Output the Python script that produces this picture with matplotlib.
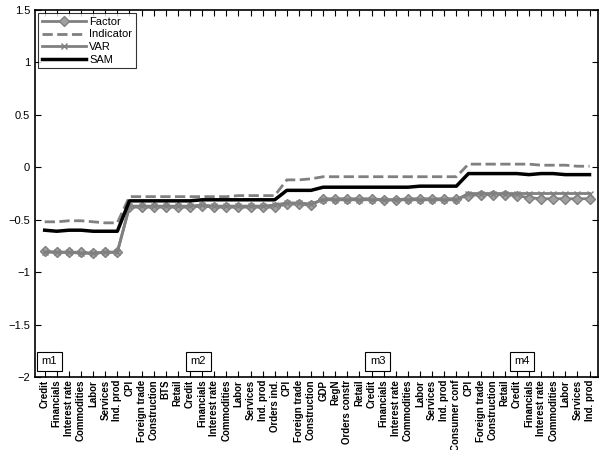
import matplotlib
matplotlib.use("Agg")
import matplotlib.pyplot as plt
import numpy as np

plt.rcParams["font.family"] = ["Liberation Sans", "DejaVu Sans"]

labels = ["Credit", "Financials", "Interest rate", "Commodities", "Labor", "Services", "Ind. prod",
          "CPI", "Foreign trade", "Construction", "BTS", "Retail", "Credit", "Financials",
          "Interest rate", "Commodities", "Labor", "Services", "Ind. prod", "Orders ind.",
          "CPI", "Foreign trade", "Construction", "GDP", "RegN", "Orders constr", "Retail",
          "Credit", "Financials", "Interest rate", "Commodities", "Labor", "Services", "Ind. prod",
          "Consumer conf", "CPI", "Foreign trade", "Construction", "Retail", "Credit",
          "Financials", "Interest rate", "Commodities", "Labor", "Services", "Ind. prod"]

factor = [-0.80, -0.81, -0.81, -0.81, -0.82, -0.81, -0.81,
          -0.38, -0.38, -0.38, -0.38, -0.38, -0.38, -0.37, -0.38, -0.38, -0.38, -0.38, -0.38, -0.38,
          -0.35, -0.35, -0.36, -0.30, -0.30, -0.30, -0.30, -0.30, -0.31, -0.31, -0.30, -0.30,
          -0.30, -0.30, -0.30, -0.27, -0.26, -0.26, -0.26, -0.27, -0.29, -0.30, -0.30, -0.30,
          -0.30, -0.30]
indicator = [-0.52, -0.52, -0.51, -0.51, -0.52, -0.53, -0.53,
             -0.28, -0.28, -0.28, -0.28, -0.28, -0.28, -0.28, -0.28, -0.28, -0.27, -0.27, -0.27, -0.27,
             -0.12, -0.12, -0.11, -0.09, -0.09, -0.09, -0.09, -0.09, -0.09, -0.09, -0.09, -0.09,
             -0.09, -0.09, -0.09, 0.03, 0.03, 0.03, 0.03, 0.03, 0.03, 0.02, 0.02, 0.02, 0.01, 0.01]
var = [-0.81, -0.81, -0.81, -0.82, -0.82, -0.81, -0.81,
       -0.37, -0.37, -0.37, -0.37, -0.37, -0.37, -0.36, -0.37, -0.37, -0.37, -0.37, -0.37, -0.36,
       -0.34, -0.34, -0.35, -0.31, -0.31, -0.31, -0.31, -0.31, -0.31, -0.31, -0.31, -0.31,
       -0.31, -0.31, -0.31, -0.25, -0.25, -0.25, -0.25, -0.25, -0.25, -0.25, -0.25, -0.25,
       -0.25, -0.25]
sam = [-0.60, -0.61, -0.60, -0.60, -0.61, -0.61, -0.61,
       -0.32, -0.32, -0.32, -0.32, -0.32, -0.32, -0.31, -0.31, -0.31, -0.31, -0.31, -0.31, -0.31,
       -0.22, -0.22, -0.22, -0.19, -0.19, -0.19, -0.19, -0.19, -0.19, -0.19, -0.19, -0.18,
       -0.18, -0.18, -0.18, -0.06, -0.06, -0.06, -0.06, -0.06, -0.07, -0.06, -0.06, -0.07,
       -0.07, -0.07]

model_tags = ["m1", "m2", "m3", "m4"]
tag_pos = [0.4, 12.7, 27.5, 39.4]

x = np.arange(len(labels))
gray = "#808080"

fig = plt.figure(figsize=(6.11, 4.50), dpi=100)
ax = fig.add_axes([35 / 611, 1 - 377 / 450, 563 / 611, 367 / 450])

ax.plot(x, factor, color=gray, lw=2, marker="D", ms=5, mfc="#a0a0a0", mec=gray, label="Factor")
ax.plot(x, indicator, color=gray, lw=2, ls="--", label="Indicator")
ax.plot(x, var, color=gray, lw=2, marker="x", ms=4, mew=1, label="VAR")
ax.plot(x, sam, color="black", lw=2.5, label="SAM")

for t, p in zip(model_tags, tag_pos):
    ax.text(p, -1.85, t, ha="center", va="center", fontsize=8,
            bbox=dict(boxstyle="square,pad=0.4", fc="white", ec="black", lw=0.8))

ax.set_xlim(-0.8, 45.7)
ax.set_ylim(-2, 1.5)
ax.set_yticks([-2, -1.5, -1, -0.5, 0, 0.5, 1, 1.5])
ax.set_yticklabels(["\u22122", "\u22121.5", "\u22121", "\u22120.5", "0", "0.5", "1", "1.5"])
ax.set_xticks(x)
ax.set_xticklabels(labels, rotation=90, fontsize=7, fontweight="bold")
ax.tick_params(axis="y", labelsize=8, direction="in", length=4)
ax.tick_params(axis="x", direction="in", length=4, pad=2)
ax.tick_params(top=True, right=True, direction="in")
for s in ax.spines.values():
    s.set_linewidth(1.2)

leg = ax.legend(loc="upper left", fontsize=8, fancybox=False, edgecolor="black",
                handlelength=4, borderpad=0.3, labelspacing=0.25, handletextpad=0.3,
                borderaxespad=0.3)
leg.get_frame().set_linewidth(0.8)

fig.savefig("out.png", dpi=100, facecolor="white")
